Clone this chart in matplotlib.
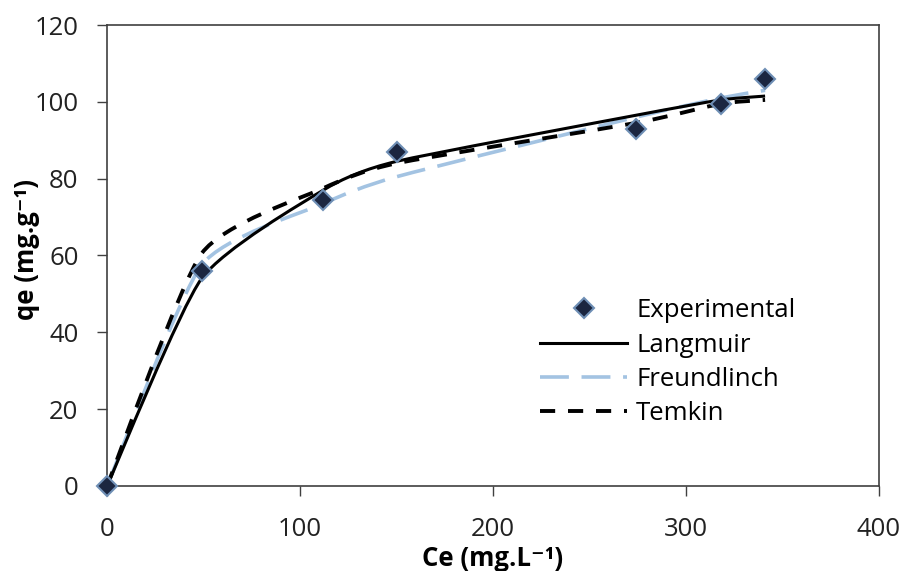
import numpy as np
import matplotlib
matplotlib.use("Agg")
import matplotlib.pyplot as plt
from matplotlib.path import Path
from matplotlib.patches import PathPatch
from matplotlib.lines import Line2D

plt.rcParams['font.family'] = ['Open Sans', 'DejaVu Sans']

# data
ce = [0, 49, 112, 150, 274, 318, 341]
qe_exp = [0, 56, 74.5, 87, 93, 99.5, 106]
qe_langmuir = [0, 54, 77, 84.5, 96.5, 100.5, 101.5]
qe_freundlich = [0, 57.5, 73.5, 80.5, 96, 101, 103]
qe_temkin = [0, 60.5, 77.5, 84, 94.5, 99.5, 100.5]


def smooth_path(x, y, t=0.1):
    # excel-like smoothed line: bezier segments with some tension
    pts = np.column_stack([x, y]).astype(float)
    n = len(pts)
    verts = [pts[0]]
    codes = [Path.MOVETO]
    for i in range(n - 1):
        p0 = pts[max(i - 1, 0)]
        p1 = pts[i]
        p2 = pts[i + 1]
        p3 = pts[min(i + 2, n - 1)]
        verts += [p1 + (p2 - p0) * t, p2 - (p3 - p1) * t, p2]
        codes += [Path.CURVE4] * 3
    return Path(verts, codes)


fig = plt.figure(figsize=(9.04, 5.71), dpi=100)
ax = fig.add_axes([0.1184, 0.1489, 0.8539, 0.8073])

fr_style = dict(color='#a3c3e2', lw=2.6, linestyle=(0, (8, 3.5)))
la_style = dict(color='black', lw=2.2, linestyle='-')
te_style = dict(color='black', lw=2.8, linestyle=(0, (3.9, 3.3)))

for vals, st in [(qe_freundlich, fr_style), (qe_langmuir, la_style), (qe_temkin, te_style)]:
    patch = PathPatch(smooth_path(ce, vals), facecolor='none', edgecolor=st['color'],
                      lw=st['lw'], linestyle=st['linestyle'], capstyle='butt')
    ax.add_patch(patch)

mk = dict(marker='D', markersize=10.5, markerfacecolor='#1b2640',
          markeredgecolor='#6f8fb5', markeredgewidth=1.5)
ax.plot(ce, qe_exp, linestyle='none', clip_on=False, zorder=5, **mk)

ax.set_xlim(0, 400)
ax.set_ylim(0, 120)
ax.set_xticks([0, 100, 200, 300, 400])
ax.set_yticks([0, 20, 40, 60, 80, 100, 120])
ax.tick_params(direction='out', length=7.5, width=1, labelsize=18.5, color='#404040',
               labelcolor='#222222')
ax.tick_params(axis='x', pad=15)
ax.tick_params(axis='y', pad=13)
for s in ax.spines.values():
    s.set_color('#404040')
    s.set_linewidth(1.2)

ax.set_xlabel('Ce (mg.L⁻¹)', fontsize=18.5, fontweight='bold')
ax.set_ylabel('qe (mg.g⁻¹)', fontsize=18.5, fontweight='bold')
ax.xaxis.set_label_coords(0.5, -0.127)
ax.yaxis.set_label_coords(-0.087, 0.514)

handles = [
    Line2D([], [], linestyle='none', **mk),
    Line2D([], [], **la_style),
    Line2D([], [], **fr_style),
    Line2D([], [], **te_style),
]
labels = ['Experimental', 'Langmuir', 'Freundlinch', 'Temkin']
ax.legend(handles, labels, loc='upper left', bbox_to_anchor=(0.561, 0.407),
          frameon=False, fontsize=18.5, handlelength=3.4, handletextpad=0.34,
          labelspacing=0.36, borderpad=0, borderaxespad=0)

fig.savefig('out.png', dpi=100)
